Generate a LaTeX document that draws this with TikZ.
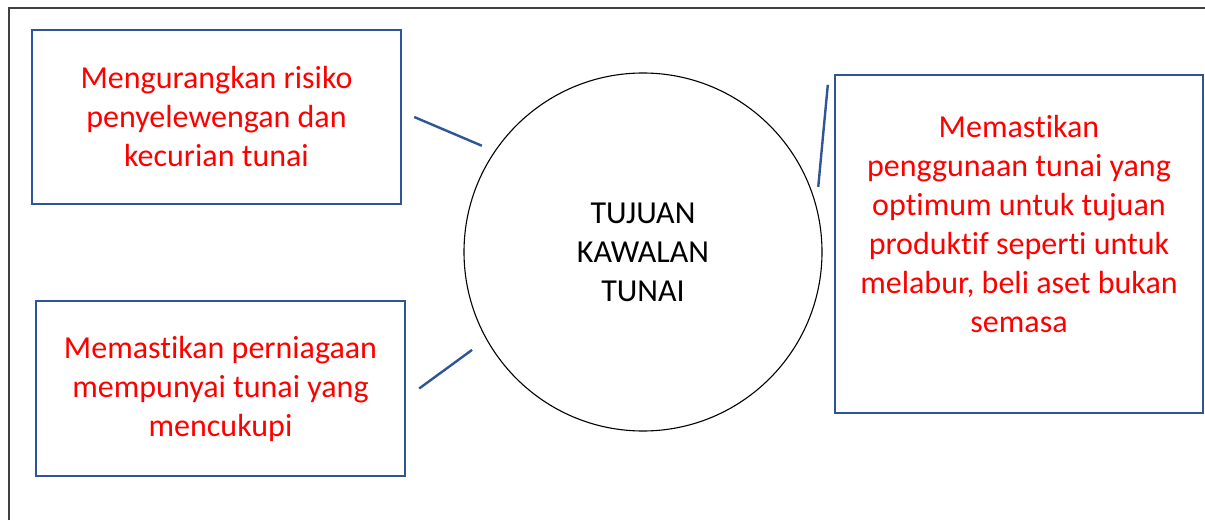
\documentclass[tikz,border=0pt]{standalone}
\usepackage{fontspec}
\setmainfont{Carlito}[Ligatures=NoCommon]
\usepackage{xcolor}
\usepackage{tikz}
\usetikzlibrary{positioning}
\definecolor{boxline}{HTML}{2F5597}
\definecolor{boxtext}{HTML}{FF0000}
\definecolor{frameline}{HTML}{404040}

\begin{document}
\begin{tikzpicture}[
        x=1pt, y=1pt,
        every node/.style={
            align=center,
            font=\fontsize{32}{39}\selectfont
        },
        goal/.style={
            rectangle,
            draw=boxline,
            line width=2.4pt,
            text=boxtext,
            minimum width=369pt,
            inner sep=0pt
        },
        hub/.style={
            circle,
            draw=black,
            line width=1.1pt,
            minimum size=358pt,
            inner sep=0pt
        },
        link/.style={
            draw=boxline,
            line width=2.4pt
        }
    ]
        \useasboundingbox (0,0) rectangle (1205,520);
        \draw[frameline, line width=1.4pt] (9,0) -- (9,512) -- (1205,512);

        \node[hub] (tujuan) at (643,268) {TUJUAN\\KAWALAN\\TUNAI};

        \node[goal, minimum height=174pt] (risiko) at (216.5,403)
            {Mengurangkan risiko\\penyelewengan dan\\kecurian tunai};
        \node[goal, minimum height=175pt] (cukup) at (220.5,131.5)
            {Memastikan perniagaan\\mempunyai tunai yang\\mencukupi};
        \node[goal, minimum width=368pt, minimum height=338pt] (optimum) at (1019,276) {};
        \node[text=boxtext, anchor=north, below=38pt of optimum.north]
            (optimumtext) {Memastikan\\penggunaan tunai yang\\optimum untuk tujuan\\produktif seperti untuk\\melabur, beli aset bukan\\semasa};

        % Lines joining the goals to the circle
        \draw[link] ([xshift=12pt]risiko.east) -- ([shift={(146.6:193pt)}]tujuan.center);
        \draw[link] ([shift={(-6pt,-11pt)}]optimum.north west) -- ([shift={(20.4:187pt)}]tujuan.center);
        \draw[link] ([xshift=13pt]cukup.east) -- ([shift={(209.8:197pt)}]tujuan.center);
    \end{tikzpicture}
\end{document}
